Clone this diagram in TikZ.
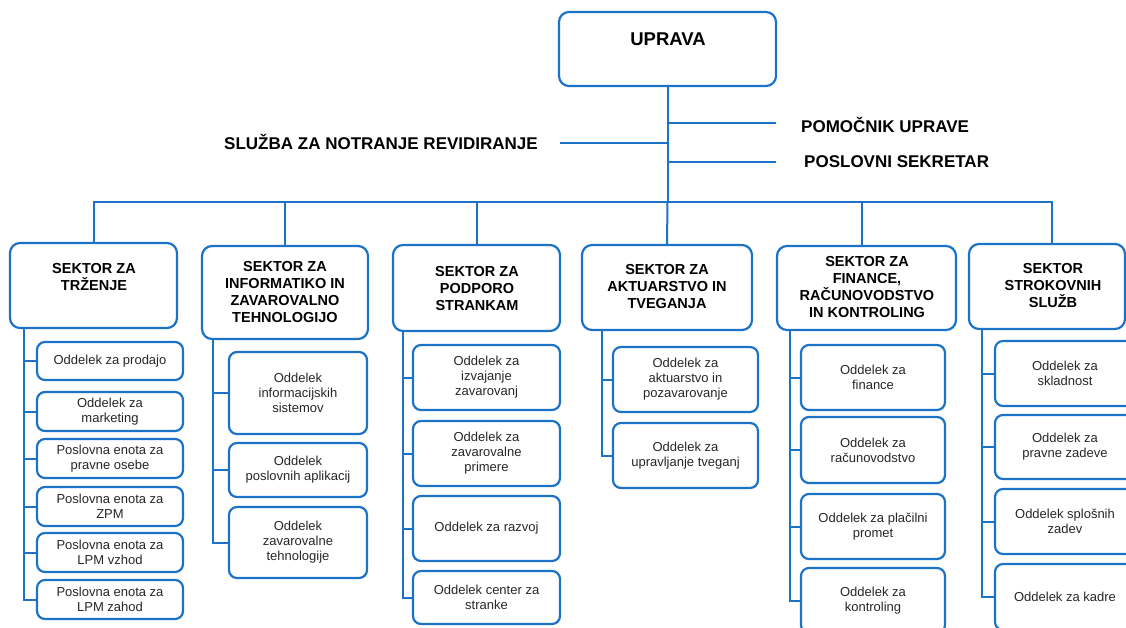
\documentclass[tikz,border=0pt]{standalone}
\usepackage{fontspec}
\setmainfont{Liberation Sans}
\definecolor{orgblue}{RGB}{28,114,198}
\newcommand\mkbox[7]{%
  \pgfmathsetmacro\bxc{(#3+#5)/2}%
  \pgfmathsetmacro\byc{(#4+#6)/2}%
  \pgfmathsetmacro\bw{#5-#3}%
  \pgfmathsetmacro\bh{#6-#4}%
  \node[#1, minimum width=\bw pt, minimum height=\bh pt] (#2) at (\bxc,\byc) {#7};}
\begin{document}
\begin{tikzpicture}[x=1pt,y=-1pt,
  conn/.style={draw=orgblue, line width=2pt},
  sect/.style={draw=orgblue, line width=2.2pt, rounded corners=10pt, inner sep=0pt},
  sectxt/.style={font=\bfseries\fontsize{14.5}{17}\selectfont, align=center, inner sep=0pt},
  child/.style={draw=orgblue, line width=2.2pt, rounded corners=8pt, align=center, inner sep=1pt, font=\fontsize{13}{15}\selectfont, text=black!85},
  lbl/.style={font=\bfseries\fontsize{17}{20}\selectfont, inner sep=0pt}]
\useasboundingbox (0,0) rectangle (1126,627);
\clip (0,0) rectangle (1126,627);

% top
\mkbox{sect}{up}{559}{12}{776}{86}{}
\node[font=\bfseries\fontsize{18.5}{22}\selectfont, inner sep=0pt] (upt) at (668,39) {UPRAVA};

\node[lbl, anchor=west] (pom) at (801,125) {POMOČNIK UPRAVE};
\node[lbl, anchor=west] (sek) at (804,162) {POSLOVNI SEKRETAR};
\node[lbl, anchor=east] (slu) at (538,142) {SLUŽBA ZA NOTRANJE REVIDIRANJE};

\coordinate (bus) at (667.5,202);
\coordinate (jp) at (667.5,123);
\coordinate (js) at (667.5,162);
\coordinate (jr) at (667.5,143);
\coordinate (pe) at (776,123);
\coordinate (se) at (776,162);
\coordinate (re) at (560,143);
\draw[conn] (up.south) -- (bus);
\draw[conn] (jp) -- (pe);
\draw[conn] (js) -- (se);
\draw[conn] (jr) -- (re);

% sectors
\mkbox{sect}{s1}{10}{243}{177}{328}{}
\mkbox{sect}{s2}{202}{246}{368}{339}{}
\mkbox{sect}{s3}{393}{245}{560}{331}{}
\mkbox{sect}{s4}{582}{245}{752}{330}{}
\mkbox{sect}{s5}{777}{246}{956}{330}{}
\mkbox{sect}{s6}{969}{244}{1125}{329}{}
\node[sectxt] (s1t) at (94,277.5) {SEKTOR ZA\\TRŽENJE};
\node[sectxt] (s2t) at (285,292.5) {SEKTOR ZA\\INFORMATIKO IN\\ZAVAROVALNO\\TEHNOLOGIJO};
\node[sectxt] (s3t) at (477,288.5) {SEKTOR ZA\\PODPORO\\STRANKAM};
\node[sectxt] (s4t) at (667,287) {SEKTOR ZA\\AKTUARSTVO IN\\TVEGANJA};
\node[sectxt] (s5t) at (867,287.5) {SEKTOR ZA\\FINANCE,\\RAČUNOVODSTVO\\IN KONTROLING};
\node[sectxt] (s6t) at (1053,286) {SEKTOR\\STROKOVNIH\\SLUŽB};

\draw[conn] (bus) -| (s1.north);
\draw[conn] (bus) -| (s2.north);
\draw[conn] (bus) -| (s3.north);
\draw[conn] (bus) -- (s4.north);
\draw[conn] (bus) -| ([xshift=-4.5]s5.north);
\draw[conn] (bus) -| ([xshift=5]s6.north);

% column 1
\mkbox{child}{a1}{37}{342}{183}{380}{Oddelek za prodajo}
\mkbox{child}{a2}{37}{392}{183}{431}{Oddelek za\\marketing}
\mkbox{child}{a3}{37}{439}{183}{478}{Poslovna enota za\\pravne osebe}
\mkbox{child}{a4}{37}{487}{183}{526}{Poslovna enota za\\ZPM}
\mkbox{child}{a5}{37}{533}{183}{572}{Poslovna enota za\\LPM vzhod}
\mkbox{child}{a6}{37}{580}{183}{619}{Poslovna enota za\\LPM zahod}
\coordinate (k1) at (24,328);
\foreach \c in {a1,a2,a3,a4,a5,a6} \draw[conn] (k1) |- (\c.west);

% column 2
\mkbox{child}{b1}{229}{352}{367}{434}{Oddelek\\informacijskih\\sistemov}
\mkbox{child}{b2}{229}{443}{367}{497}{Oddelek\\poslovnih aplikacij}
\mkbox{child}{b3}{229}{507}{367}{578}{Oddelek\\zavarovalne\\tehnologije}
\coordinate (k2) at (213,339);
\foreach \c in {b1,b2,b3} \draw[conn] (k2) |- (\c.west);

% column 3
\mkbox{child}{c1}{413}{345}{560}{410}{Oddelek za\\izvajanje\\zavarovanj}
\mkbox{child}{c2}{413}{421}{560}{486}{Oddelek za\\zavarovalne\\primere}
\mkbox{child}{c3}{413}{496}{560}{561}{Oddelek za razvoj}
\mkbox{child}{c4}{413}{571}{560}{624}{Oddelek center za\\stranke}
\coordinate (k3) at (403,331);
\foreach \c in {c1,c2,c3,c4} \draw[conn] (k3) |- (\c.west);

% column 4
\mkbox{child}{d1}{613}{347}{758}{412}{Oddelek za\\aktuarstvo in\\pozavarovanje}
\mkbox{child}{d2}{613}{423}{758}{488}{Oddelek za\\upravljanje tveganj}
\coordinate (k4) at (602,330);
\foreach \c in {d1,d2} \draw[conn] (k4) |- (\c.west);

% column 5
\mkbox{child}{e1}{801}{345}{945}{410}{Oddelek za\\finance}
\mkbox{child}{e2}{801}{417}{945}{483}{Oddelek za\\računovodstvo}
\mkbox{child}{e3}{801}{494}{945}{559}{Oddelek za plačilni\\promet}
\mkbox{child}{e4}{801}{568}{945}{633}{Oddelek za\\kontroling}
\coordinate (k5) at (790,330);
\foreach \c in {e1,e2,e3,e4} \draw[conn] (k5) |- (\c.west);

% column 6
\mkbox{child}{f1}{995}{341}{1135}{406}{Oddelek za\\skladnost}
\mkbox{child}{f2}{995}{415}{1135}{479}{Oddelek za\\pravne zadeve}
\mkbox{child}{f3}{995}{489}{1135}{554}{Oddelek splošnih\\zadev}
\mkbox{child}{f4}{995}{564}{1135}{630}{Oddelek za kadre}
\coordinate (k6) at (982,329);
\foreach \c in {f1,f2,f3,f4} \draw[conn] (k6) |- (\c.west);
\end{tikzpicture}
\end{document}
